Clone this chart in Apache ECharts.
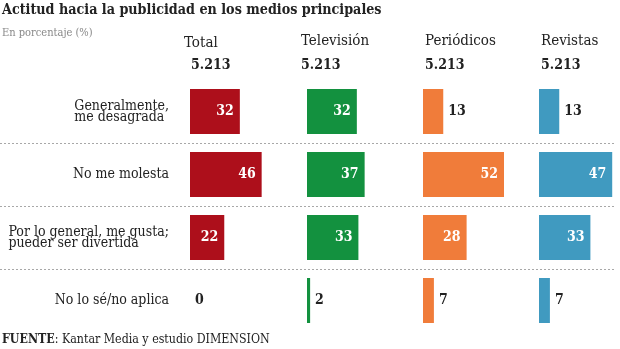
<!DOCTYPE html>
<html>
<head>
<meta charset="utf-8">
<script src="https://cdn.jsdelivr.net/npm/echarts@6/dist/echarts.min.js"></script>
<style>html,body{margin:0;padding:0;background:#fff}#c{width:620px;height:349px}</style>
</head>
<body>
<div id="c"></div>
<script>
const categories = ['Generalmente,\nme desagrada', 'No me molesta', 'Por lo general, me gusta;\npueder ser divertida', 'No lo sé/no aplica'];
const media = ['Total', 'Televisión', 'Periódicos', 'Revistas'];
const sampleSizes = ['5.213', '5.213', '5.213', '5.213'];
const totalValues = [32, 46, 22, 0];
const tvValues = [32, 37, 33, 2];
const newspaperValues = [13, 52, 28, 7];
const magazineValues = [13, 47, 33, 7];

const seriesValues = [totalValues, tvValues, newspaperValues, magazineValues];
const colors = ['#ad0f1b', '#13913f', '#f07c3a', '#409ac0'];
const FONT = '"DejaVu Serif Condensed", "DejaVu Serif", serif';
const gridLefts = [190, 307, 423, 539];
const headerLefts = [184, 301, 425, 541];
const sizeLefts = [191, 301, 425, 541];
const GRID_TOP = 80, GRID_H = 252, GRID_W = 81, XMAX = 52;

const grids = gridLefts.map(l => ({ left: l, top: GRID_TOP, width: GRID_W, height: GRID_H }));
grids.push({ left: 0, top: GRID_TOP, width: 616, height: GRID_H });

const xAxes = grids.map((g, i) => ({
  gridIndex: i, type: 'value', min: 0, max: i < 4 ? XMAX : 4, show: false
}));

const yAxes = gridLefts.map((l, i) => ({
  gridIndex: i, type: 'category', data: categories, inverse: true,
  axisLine: { show: false }, axisTick: { show: false }, splitLine: { show: false },
  axisLabel: i === 0 ? {
    show: true, margin: 21, align: 'right',
    formatter: v => v.split('\n').map(s => '{a|' + s + '}').join('\n'),
    rich: { a: { align: 'left', fontFamily: FONT, fontSize: 14, lineHeight: 11, color: '#222' } }
  } : { show: false }
}));
yAxes.push({
  gridIndex: 4, type: 'value', min: 0, max: 4, interval: 1, inverse: true,
  axisLine: { show: false }, axisTick: { show: false }, axisLabel: { show: false },
  splitLine: { show: true, showMinLine: false, showMaxLine: false, lineStyle: { color: '#a8a8a8', type: [2, 2], width: 1 } }
});

const series = seriesValues.map((vals, i) => ({
  type: 'bar', xAxisIndex: i, yAxisIndex: i, barWidth: 45,
  itemStyle: { color: colors[i] },
  data: vals.map(v => ({
    value: v,
    label: v >= 20
      ? { show: true, position: 'insideRight', distance: 6, color: '#fff', fontWeight: 'bold', fontSize: 14, fontFamily: FONT }
      : { show: true, position: 'right', distance: 5, color: '#222', fontWeight: 'bold', fontSize: 14, fontFamily: FONT }
  })),
  silent: true, animation: false
}));

const titles = [
  { text: 'Actitud hacia la publicidad en los medios principales', left: 2, top: 3, padding: 0,
    textStyle: { fontFamily: FONT, fontSize: 14.2, fontWeight: 'bold', color: '#222' } },
  { text: 'En porcentaje (%)', left: 2, top: 28, padding: 0,
    textStyle: { fontFamily: FONT, fontSize: 11, fontWeight: 'normal', color: '#888' } },
  { text: '{b|FUENTE}: Kantar Media y estudio DIMENSION', left: 2, top: 334, padding: 0,
    textStyle: { fontFamily: FONT, fontSize: 12.3, fontWeight: 'normal', color: '#222',
      rich: { b: { fontFamily: FONT, fontSize: 12.3, fontWeight: 'bold', color: '#222' } } } }
];
media.forEach((m, i) => {
  titles.push({ text: m, left: headerLefts[i], top: i === 0 ? 36 : 34, padding: 0,
    textStyle: { fontFamily: FONT, fontSize: 15, fontWeight: 'normal', color: '#222' } });
  titles.push({ text: sampleSizes[i], left: sizeLefts[i], top: 58, padding: 0,
    textStyle: { fontFamily: FONT, fontSize: 14, fontWeight: 'bold', color: '#222' } });
});

const chart = echarts.init(document.getElementById('c'), null, { renderer: 'canvas' });
chart.setOption({
  animation: false,
  title: titles,
  grid: grids,
  xAxis: xAxes,
  yAxis: yAxes,
  series: series
});
</script>
</body>
</html>
